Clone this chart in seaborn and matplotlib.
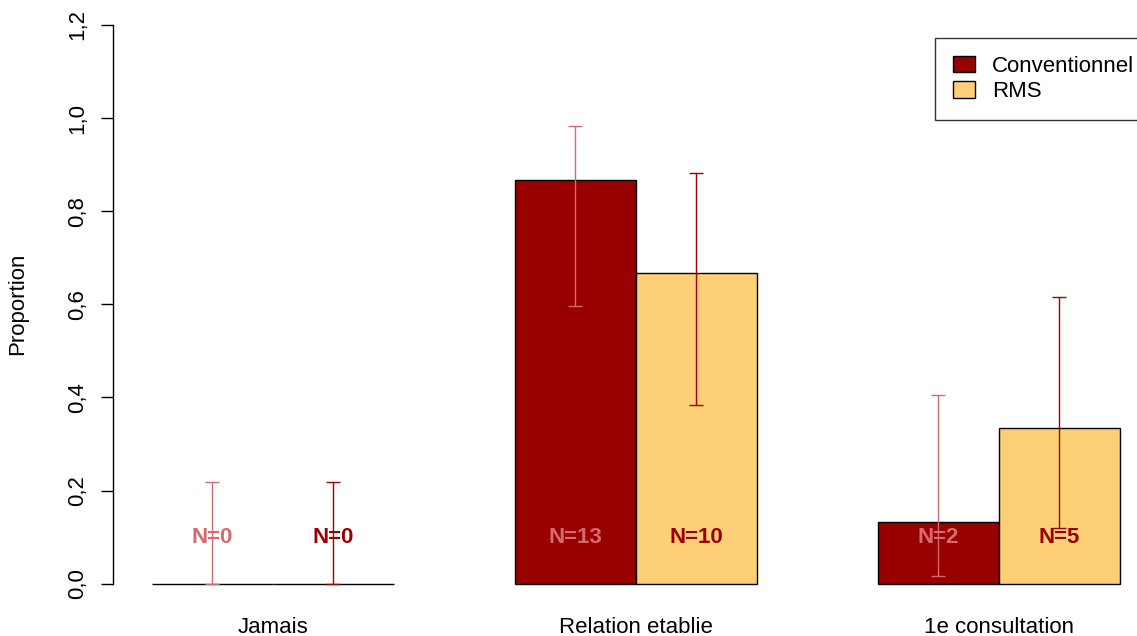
import numpy as np
import pandas as pd
import seaborn as sns
import matplotlib.pyplot as plt

# data
categories = ["Jamais", "Relation etablie", "1e consultation"]
groups = ["Conventionnel", "RMS"]
prop_conv = [0.0, 13 / 15, 2 / 15]
prop_rms = [0.0, 10 / 15, 5 / 15]
low_conv = [0.0, 0.596, 0.017]
high_conv = [0.218, 0.983, 0.405]
low_rms = [0.0, 0.384, 0.120]
high_rms = [0.218, 0.881, 0.616]
n_conv = [0, 13, 2]
n_rms = [0, 10, 5]

bar_colors = ["#990000", "#FDCF76"]
err_colors = ["#D56B6D", "#A30000"]

df = pd.DataFrame({
    "categorie": categories * 2,
    "groupe": [groups[0]] * 3 + [groups[1]] * 3,
    "proportion": prop_conv + prop_rms,
})

sns.set_style("white")
plt.rcParams["font.family"] = ["Liberation Sans", "DejaVu Sans"]
plt.rcParams["text.color"] = "black"
plt.rcParams["axes.labelcolor"] = "black"
plt.rcParams["xtick.color"] = "black"
plt.rcParams["ytick.color"] = "black"

fig = plt.figure(figsize=(11.37, 6.36), dpi=100)
ax = fig.add_axes([113 / 1137, 30 / 636, 1049 / 1137, 603.4 / 636])

sns.barplot(data=df, x="categorie", y="proportion", hue="groupe",
            order=categories, hue_order=groups, palette=bar_colors,
            saturation=1, width=2 / 3, gap=0, edgecolor="black", linewidth=1.0,
            errorbar=None, legend=True, ax=ax)

# error bars + N labels
offsets = [-1 / 6, 1 / 6]
series = [(prop_conv, low_conv, high_conv, n_conv), (prop_rms, low_rms, high_rms, n_rms)]
label_colors = [err_colors[0], "#990000"]
for k, (p, lo, hi, n) in enumerate(series):
    xs = np.arange(len(categories)) + offsets[k]
    p = np.array(p)
    yerr = [p - np.array(lo), np.array(hi) - p]
    ax.errorbar(xs, p, yerr=yerr, fmt="none", ecolor=err_colors[k],
                elinewidth=1.0, capsize=5, capthick=1.0, zorder=3)
    for x, nn in zip(xs, n):
        ax.text(x, 0.1, "N=%d" % nn, color=label_colors[k],
                fontsize=16, fontweight="bold", ha="center", va="center", zorder=4)

ax.set_xlim(-0.44, 2.45)
ax.set_ylim(-0.048, 1.248)
ax.set_yticks(np.arange(0, 1.21, 0.2))
ax.set_yticklabels([("%.1f" % v).replace(".", ",") for v in np.arange(0, 1.21, 0.2)],
                   rotation=90, va="center", fontsize=16)
ax.tick_params(axis="y", length=9, width=1, pad=9, left=True)
ax.tick_params(axis="x", length=0, pad=8, labelsize=16)
ax.set_xlabel("")
ax.set_ylabel("Proportion", fontsize=16, labelpad=28)

for s in ["top", "right", "bottom"]:
    ax.spines[s].set_visible(False)
ax.spines["left"].set_bounds(0, 1.2)
ax.spines["left"].set_color("black")
ax.spines["left"].set_linewidth(1)

leg = ax.legend(loc="upper left", bbox_to_anchor=(935 / 1137, 1 - 38 / 636),
                bbox_transform=fig.transFigure, fontsize=16, frameon=True,
                fancybox=False, edgecolor="black", handlelength=1.0,
                handleheight=0.75, handletextpad=0.75, borderpad=0.8,
                labelspacing=0.2, borderaxespad=0)
leg.get_frame().set_linewidth(1)

fig.savefig("out.png", dpi=100)
